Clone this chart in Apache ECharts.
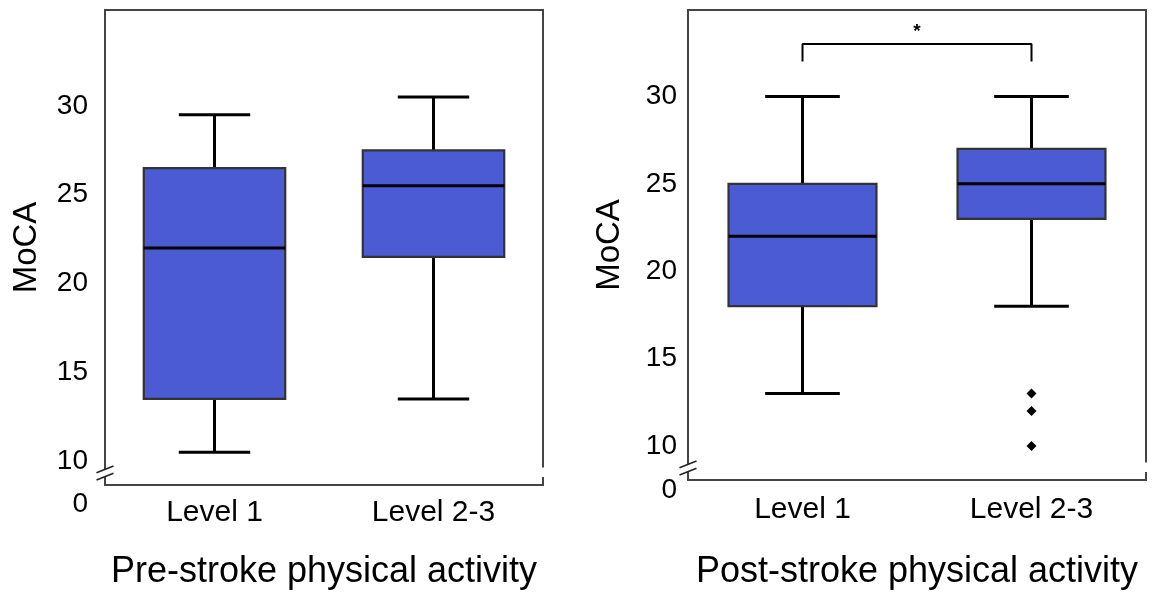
<!DOCTYPE html>
<html>
<head>
<meta charset="utf-8">
<title>MoCA by physical activity</title>
<script src="https://cdn.jsdelivr.net/npm/echarts@6/dist/echarts.min.js"></script>
<style>
  html, body { margin: 0; padding: 0; background: #fff; }
  #chart { width: 1162px; height: 595px; }
</style>
</head>
<body>
<div id="chart"></div>
<script>
// data
var categories = ['Level 1', 'Level 2-3'];
var yTicks = [10, 15, 20, 25, 30];
// each box: [lower whisker, Q1, median, Q3, upper whisker]
var preStrokeBoxes = [
    [10.5, 13.5, 22, 26.5, 29.5],
    [13.5, 21.5, 25.5, 27.5, 30.5]
];
var postStrokeBoxes = [
    [13, 18, 22, 25, 30],
    [18, 23, 25, 27, 30]
];
var postStrokeOutliers = [['Level 2-3', 13], ['Level 2-3', 12], ['Level 2-3', 10]];
var bracketPoints = [['Level 1', 32], ['Level 1', 33], ['Level 2-3', 33], ['Level 2-3', 32]];
var sigText = '*';

var BOX_COLOR = '#4a5bd4';
var FONT = '"Liberation Sans", Arial, Helvetica, sans-serif';

// layout of the two panels (pixels)
var panels = [
    { left: 105, top: 10, width: 438, height: 483, min: 8.65, max: 35.4,
      labelMargin: 17, catMargin: 13, nameGap: 69, zeroDy: 11, breakDy: 20,
      title: 'Pre-stroke physical activity' },
    { left: 688, top: 10, width: 458, height: 480, min: 8.05, max: 34.95,
      labelMargin: 11, catMargin: 15, nameGap: 74, zeroDy: 0, breakDy: 22,
      title: 'Post-stroke physical activity' }
];

function blackLine() {
    return { stroke: '#000', lineWidth: 3 };
}

function renderBox(params, api) {
    var i = api.value(0);
    var pLow = api.coord([i, api.value(1)]);
    var pQ1 = api.coord([i, api.value(2)]);
    var pMed = api.coord([i, api.value(3)]);
    var pQ3 = api.coord([i, api.value(4)]);
    var pHigh = api.coord([i, api.value(5)]);
    var band = api.size([1, 0])[0];
    var halfBox = band * 0.323;
    var halfCap = band * 0.163;
    var cx = pMed[0];
    return {
        type: 'group',
        children: [
            { type: 'line', shape: { x1: cx, y1: pHigh[1], x2: cx, y2: pQ3[1] }, style: blackLine() },
            { type: 'line', shape: { x1: cx, y1: pQ1[1], x2: cx, y2: pLow[1] }, style: blackLine() },
            { type: 'line', shape: { x1: cx - halfCap, y1: pHigh[1], x2: cx + halfCap, y2: pHigh[1] }, style: blackLine() },
            { type: 'line', shape: { x1: cx - halfCap, y1: pLow[1], x2: cx + halfCap, y2: pLow[1] }, style: blackLine() },
            { type: 'rect', shape: { x: cx - halfBox, y: pQ3[1], width: halfBox * 2, height: pQ1[1] - pQ3[1] },
              style: { fill: BOX_COLOR, stroke: '#333', lineWidth: 2.2 } },
            { type: 'line', shape: { x1: cx - halfBox, y1: pMed[1], x2: cx + halfBox, y2: pMed[1] }, style: blackLine() }
        ]
    };
}

function withIndex(boxes) {
    return boxes.map(function (b, i) { return [i].concat(b); });
}

var grids = [], xAxes = [], yAxes = [];
panels.forEach(function (p, k) {
    grids.push({
        left: p.left, top: p.top, width: p.width, height: p.height,
        show: true, borderColor: '#444', borderWidth: 2, backgroundColor: 'transparent'
    });
    xAxes.push({
        type: 'category', gridIndex: k, data: categories,
        axisLine: { show: false }, axisTick: { show: false }, splitLine: { show: false },
        axisLabel: { fontSize: 30, color: '#000', margin: p.catMargin, fontFamily: FONT },
        name: p.title, nameLocation: 'middle', nameGap: p.nameGap,
        nameTextStyle: { fontSize: 36, color: '#000', fontFamily: FONT }
    });
    yAxes.push({
        type: 'value', gridIndex: k, min: p.min, max: p.max,
        axisLine: { show: false }, axisTick: { show: false }, splitLine: { show: false },
        axisLabel: { customValues: yTicks, fontSize: 28, color: '#000', margin: p.labelMargin, fontFamily: FONT },
        name: 'MoCA', nameLocation: 'middle', nameGap: 62, nameRotate: 90,
        nameTextStyle: { fontSize: 33, color: '#000', fontFamily: FONT }
    });
});

var myChart = echarts.init(document.getElementById('chart'));
var option = {
    animation: false,
    textStyle: { fontFamily: FONT },
    grid: grids,
    xAxis: xAxes,
    yAxis: yAxes,
    series: [
        {
            name: 'Pre-stroke', type: 'custom', xAxisIndex: 0, yAxisIndex: 0,
            renderItem: renderBox, encode: { x: 0, y: [1, 2, 3, 4, 5] },
            data: withIndex(preStrokeBoxes)
        },
        {
            name: 'Post-stroke', type: 'custom', xAxisIndex: 1, yAxisIndex: 1,
            renderItem: renderBox, encode: { x: 0, y: [1, 2, 3, 4, 5] },
            data: withIndex(postStrokeBoxes)
        },
        {
            name: 'Outliers', type: 'scatter', xAxisIndex: 1, yAxisIndex: 1,
            symbol: 'diamond', symbolSize: 10, itemStyle: { color: '#000', opacity: 1 },
            data: postStrokeOutliers
        },
        {
            name: 'Bracket', type: 'line', xAxisIndex: 1, yAxisIndex: 1,
            symbol: 'none', lineStyle: { color: '#000', width: 2 },
            data: bracketPoints
        }
    ]
};
myChart.setOption(option);

// axis breaks, the "0" labels and the significance star
var extras = [];
panels.forEach(function (p, k) {
    var x0 = p.left, x1 = p.left + p.width, yb = p.top + p.height;
    var yc = yb - p.breakDy;
    extras.push({ type: 'rect', z: 100, shape: { x: x0 - 3, y: yc - 3.5, width: 6, height: 7 }, style: { fill: '#fff' } });
    extras.push({ type: 'line', z: 101, shape: { x1: x0 - 8.5, y1: yc - 0.3, x2: x0 + 8.5, y2: yc - 7 }, style: { stroke: '#222', lineWidth: 1.6 } });
    extras.push({ type: 'line', z: 101, shape: { x1: x0 - 8.5, y1: yc + 7, x2: x0 + 8.5, y2: yc + 0.3 }, style: { stroke: '#222', lineWidth: 1.6 } });
    extras.push({ type: 'rect', z: 100, shape: { x: x1 - 3, y: yc - 5.5, width: 6, height: 9.5 }, style: { fill: '#fff' } });
    extras.push({ type: 'text', z: 101, x: x0 - p.labelMargin, y: yb + p.zeroDy,
        style: { text: '0', fill: '#000', font: '28px ' + FONT, align: 'right', verticalAlign: 'middle' } });
});
var pa = myChart.convertToPixel({ gridIndex: 1 }, [categories[0], bracketPoints[1][1]]);
var pb = myChart.convertToPixel({ gridIndex: 1 }, [categories[1], bracketPoints[2][1]]);
extras.push({ type: 'text', z: 101, x: (pa[0] + pb[0]) / 2, y: pa[1] - 12,
    style: { text: sigText, fill: '#000', font: 'bold 19px ' + FONT, align: 'center', verticalAlign: 'middle' } });
myChart.setOption({ graphic: extras });
</script>
</body>
</html>
